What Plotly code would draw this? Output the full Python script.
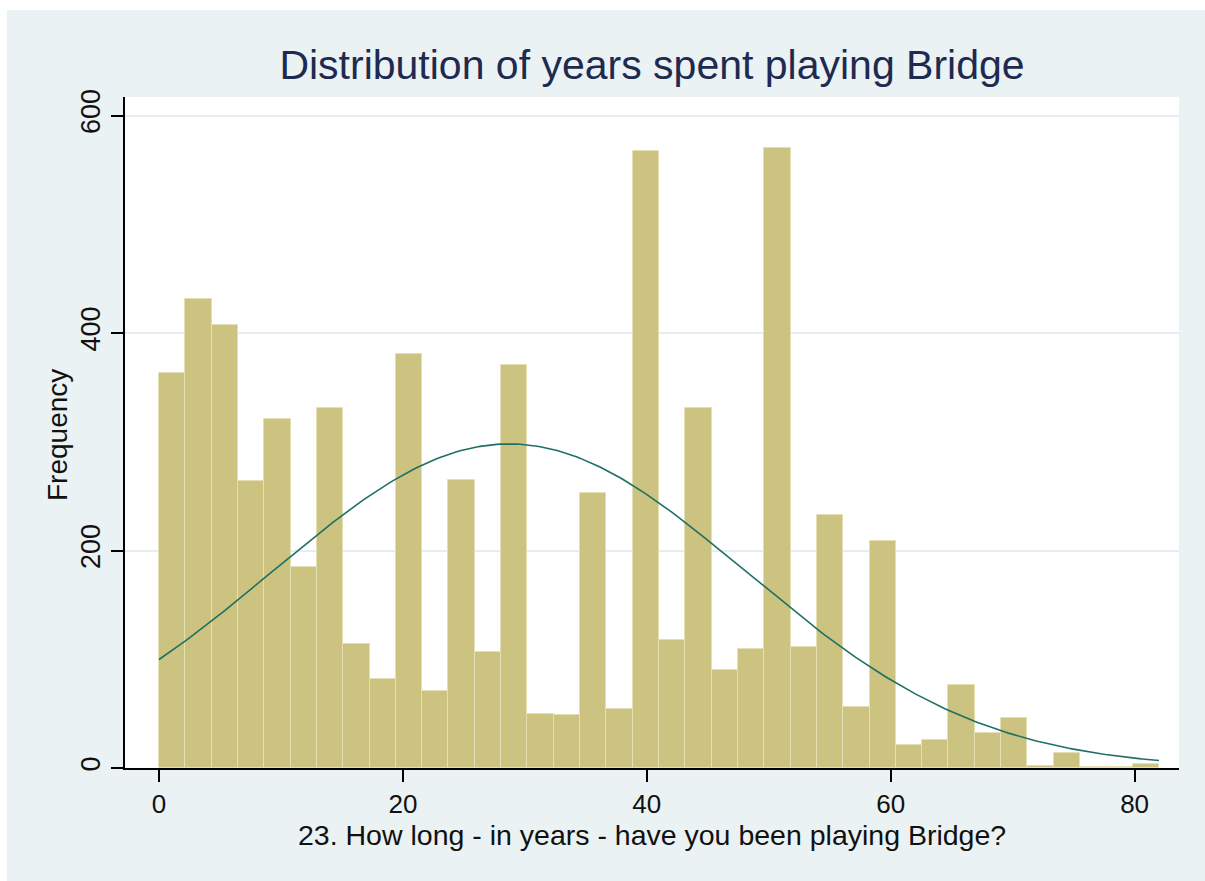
import numpy as np
import plotly.graph_objects as go

# ---- data ----
x_start = 0.0
x_end = 82.0
n_bins = 38
counts = [363, 431, 407, 264, 321, 185, 331, 114, 82, 381,
          71, 265, 107, 371, 50, 49, 253, 54, 567, 118,
          331, 90, 109, 570, 111, 233, 56, 209, 21, 26,
          76, 32, 46, 2, 14, 1, 1, 4]
curve_mean = 28.7
curve_sd = 19.4
x_ticks = [0, 20, 40, 60, 80]
y_ticks = [0, 200, 400, 600]
title_text = "Distribution of years spent playing Bridge"
x_title = "23. How long - in years - have you been playing Bridge?"
y_title = "Frequency"

# ---- derived ----
bin_width = (x_end - x_start) / n_bins
bin_left = [x_start + i * bin_width for i in range(n_bins)]
n_total = sum(counts)
xs = np.linspace(x_start, x_end, 300)
ys = n_total * bin_width / (curve_sd * np.sqrt(2 * np.pi)) * np.exp(-0.5 * ((xs - curve_mean) / curve_sd) ** 2)

W, H = 1205, 881
ML, MR, MT, MB = 125, 26, 97, 113
PW = W - ML - MR
PH = H - MT - MB

FONT = "Liberation Sans, Arial, sans-serif"
BG = "#EAF2F3"

fig = go.Figure()
fig.add_trace(go.Bar(
    x=bin_left, y=counts, width=bin_width, offset=0,
    marker=dict(color="#CBC37F", line=dict(color="#E4DFB4", width=1)),
    showlegend=False, hoverinfo="skip",
))
fig.add_trace(go.Scatter(
    x=xs, y=ys, mode="lines",
    line=dict(color="#1F6F66", width=1.6),
    showlegend=False, hoverinfo="skip",
))

def px_to_paper_x(px):
    return (px - ML) / PW

def px_to_paper_y(py):
    return (H - MB - py) / PH

fig.update_layout(
    width=W, height=H,
    margin=dict(l=ML, r=MR, t=MT, b=MB, pad=0),
    paper_bgcolor=BG, plot_bgcolor="white",
    bargap=0,
    font=dict(family=FONT, color="#111111"),
    title=dict(text=title_text, x=0.5, xref="paper", xanchor="center",
               y=1 - 65 / H, yref="container", yanchor="middle",
               font=dict(size=41, color="#1E2A50", family=FONT)),
    xaxis=dict(range=[-2.79, 83.64], tickvals=x_ticks, showgrid=False, zeroline=False,
               showline=True, linecolor="black", linewidth=1.5,
               ticks="outside", ticklen=12, tickwidth=1.5, tickcolor="black",
               tickfont=dict(size=26, color="#111111", family=FONT)),
    yaxis=dict(range=[0, 617.1], tickvals=y_ticks, showgrid=True, gridcolor="#E6EEF1", gridwidth=1.5,
               zeroline=False, showline=True, linecolor="black", linewidth=1.5,
               ticks="outside", ticklen=12, tickwidth=1.5, tickcolor="black",
               tickangle=-90,
               tickfont=dict(size=27, color="#111111", family=FONT)),
    shapes=[
        dict(type="rect", xref="paper", yref="paper", layer="below",
             x0=px_to_paper_x(-5), x1=px_to_paper_x(W + 5), y0=px_to_paper_y(10), y1=px_to_paper_y(-5),
             fillcolor="white", line=dict(width=0)),
        dict(type="rect", xref="paper", yref="paper", layer="below",
             x0=px_to_paper_x(-5), x1=px_to_paper_x(7), y0=px_to_paper_y(H + 5), y1=px_to_paper_y(-5),
             fillcolor="white", line=dict(width=0)),
    ],
    annotations=[
        dict(text=x_title, xref="paper", yref="paper", x=0.5, y=px_to_paper_y(835),
             xanchor="center", yanchor="middle", showarrow=False,
             font=dict(size=28.5, color="#111111", family=FONT)),
        dict(text=y_title, xref="paper", yref="paper", x=px_to_paper_x(57), y=px_to_paper_y(435),
             xanchor="center", yanchor="middle", textangle=-90, showarrow=False,
             font=dict(size=28, color="#111111", family=FONT)),
    ],
)

fig.write_html("out.html")
